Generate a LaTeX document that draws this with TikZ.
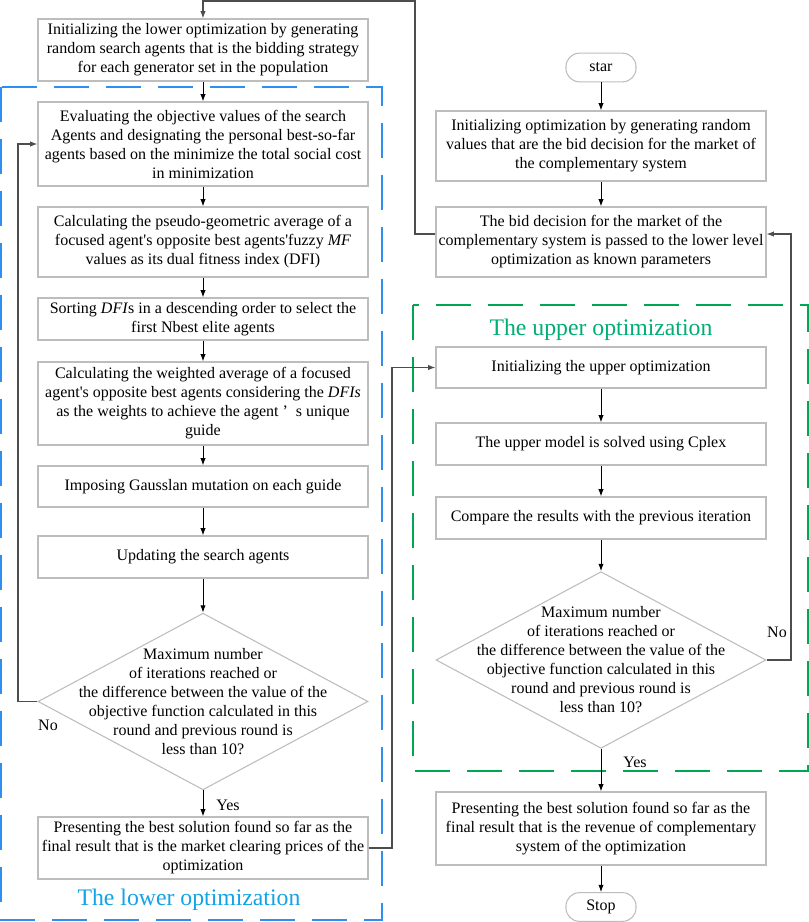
\documentclass[tikz,border=0pt]{standalone}
\usepackage{fontspec}
\setmainfont{Liberation Serif}
\usetikzlibrary{arrows.meta,positioning,shapes.geometric}
\definecolor{lowerblue}{HTML}{2D8FF0}
\definecolor{lowertext}{HTML}{12A3E6}
\definecolor{uppergreen}{HTML}{00A651}
\definecolor{uppertext}{HTML}{00AE72}
\definecolor{boxline}{HTML}{BDBDBD}
\definecolor{loopline}{HTML}{4D4D4D}

\begin{document}
\begin{tikzpicture}[x=0.75pt,y=-0.75pt,
  every node/.style={font=\fontsize{12}{14.25}\selectfont},
  stepbox/.style={draw=boxline,line width=0.8pt,fill=white,align=center,minimum width=247.5pt,inner sep=0pt},
  termbox/.style={draw=boxline,line width=0.8pt,fill=white,rounded corners=10pt,minimum width=52.5pt,minimum height=21.5pt,inner sep=0pt},
  decide/.style={draw=boxline,line width=0.8pt,fill=white,diamond,minimum width=247.5pt,minimum height=132.5pt,inner sep=0pt},
  flow/.style={line width=0.75pt,-{Latex[length=5.5pt,width=4pt]}},
  back/.style={loopline,line width=0.8pt,-{Latex[length=5.5pt,width=4pt]}},
  groupframe/.style={line width=1.6pt,dash pattern=on 26pt off 13pt},
  grouptitle/.style={font=\fontsize{17.8}{20}\selectfont}
]
  \useasboundingbox (0,0) rectangle (809,922);

  % dashed frames
  \draw[lowerblue,groupframe] (1,87) rectangle (382,920);
  \draw[uppergreen,groupframe] (413,305) rectangle (808,771);
  \node[grouptitle,lowertext] (lowtitle) at (189,900) {The lower optimization};
  \node[grouptitle,uppertext] (uptitle) at (601,330) {The upper optimization};

  % lower level
  \node[stepbox,minimum height=46.5pt] (initlow) at (203,50)
    {Initializing the lower optimization by generating\\random search agents that is the bidding strategy\\for each generator set in the population};
  \node[stepbox,minimum height=63pt] (evalagents) at (203,144)
    {Evaluating the objective values of the search\\Agents and designating the personal best-so-far\\agents based on the minimize the total social cost\\in minimization};
  \node[stepbox,minimum height=52.5pt] (pseudoavg) at (203,242)
    {Calculating the pseudo-geometric average of a\\focused agent\textquotesingle s opposite best agents\textquotesingle fuzzy \textit{MF}\\values as its dual fitness index (DFI)};
  \node[stepbox,minimum height=31.5pt] (sortdfi) at (203,319)
    {Sorting \textit{DFI}s in a descending order to select the\\first Nbest elite agents};
  \node[stepbox,minimum height=62.25pt] (weightavg) at (203,403.5)
    {Calculating the weighted average of a focused\\agent\textquotesingle s opposite best agents considering the \textit{DFIs}\\as the weights to achieve the agent\kern3pt’\kern6pt s unique\\guide};
  \node[stepbox,minimum height=30.75pt] (mutate) at (203,486.5)
    {Imposing Gausslan mutation on each guide};
  \node[stepbox,minimum height=31.5pt] (update) at (203,557)
    {Updating the search agents};
  \node[decide,label={[align=center]center:{Maximum number\\of iterations reached or\\the difference between the value of the\\objective function calculated in this\\round and previous round is\\less than 10?}}] (decidelow) at (203,701.5) {};
  \node[stepbox,minimum height=46.5pt] (resultlow) at (203,848)
    {Presenting the best solution found so far as the\\final result that is the market clearing prices of the\\optimization};

  % upper level
  \node[termbox] (start) at (601,67.5) {star};
  \node[stepbox,minimum height=52.5pt] (initopt) at (601,146)
    {Initializing optimization by generating random\\values that are the bid decision for the market of\\the complementary system};
  \node[stepbox,minimum height=52.5pt] (bidpass) at (601,242)
    {The bid decision for the market of the\\complementary system is passed to the lower level\\optimization as known parameters};
  \node[stepbox,minimum height=30.75pt] (initup) at (601,367.5)
    {Initializing the upper optimization};
  \node[stepbox,minimum height=31.5pt] (solveup) at (601,444)
    {The upper model is solved using Cplex};
  \node[stepbox,minimum height=31.5pt] (compare) at (601,518)
    {Compare the results with the previous iteration};
  \node[decide,label={[align=center]center:{Maximum number\\of iterations reached or\\the difference between the value of the\\objective function calculated in this\\round and previous round is\\less than 10?}}] (decideup) at (601,660) {};
  \node[stepbox,minimum height=54.75pt] (resultup) at (601,828.5)
    {Presenting the best solution found so far as the\\final result that is the revenue of complementary\\system of the optimization};
  \node[termbox] (stop) at (601,907) {Stop};

  % branch labels
  \node (nolow) at (48,725) {No};
  \node (yeslow) at (228,805) {Yes};
  \node (noup) at (777,632) {No};
  \node (yesup) at (635,762) {Yes};

  % straight flow
  \draw[flow] (initlow) -- (evalagents);
  \draw[flow] (evalagents) -- (pseudoavg);
  \draw[flow] (pseudoavg) -- (sortdfi);
  \draw[flow] (sortdfi) -- (weightavg);
  \draw[flow] (weightavg) -- (mutate);
  \draw[flow] (mutate) -- (update);
  \draw[flow] (update) -- (decidelow);
  \draw[flow] (decidelow) -- (resultlow);
  \draw[flow] (start) -- (initopt);
  \draw[flow] (initopt) -- (bidpass);
  \draw[flow] (initup) -- (solveup);
  \draw[flow] (solveup) -- (compare);
  \draw[flow] (compare) -- (decideup);
  \draw[flow] (decideup) -- (resultup);
  \draw[flow] (resultup) -- (stop);

  % loops between levels
  \coordinate (topturn) at (415,1);
  \coordinate (noturn) at (18,701.5);
  \coordinate (crossturn) at (392,848);
  \coordinate (noupturn) at (791,660);
  \draw[back] ([yshift=6pt]bidpass.west) -| (topturn) -| (initlow.north);
  \draw[back] (decidelow.west) -- (noturn) |- (evalagents.west);
  \draw[back] (resultlow.east) -- (crossturn) |- (initup.west);
  \draw[back] (decideup.east) -- (noupturn) |- ([yshift=6pt]bidpass.east);
\end{tikzpicture}
\end{document}
